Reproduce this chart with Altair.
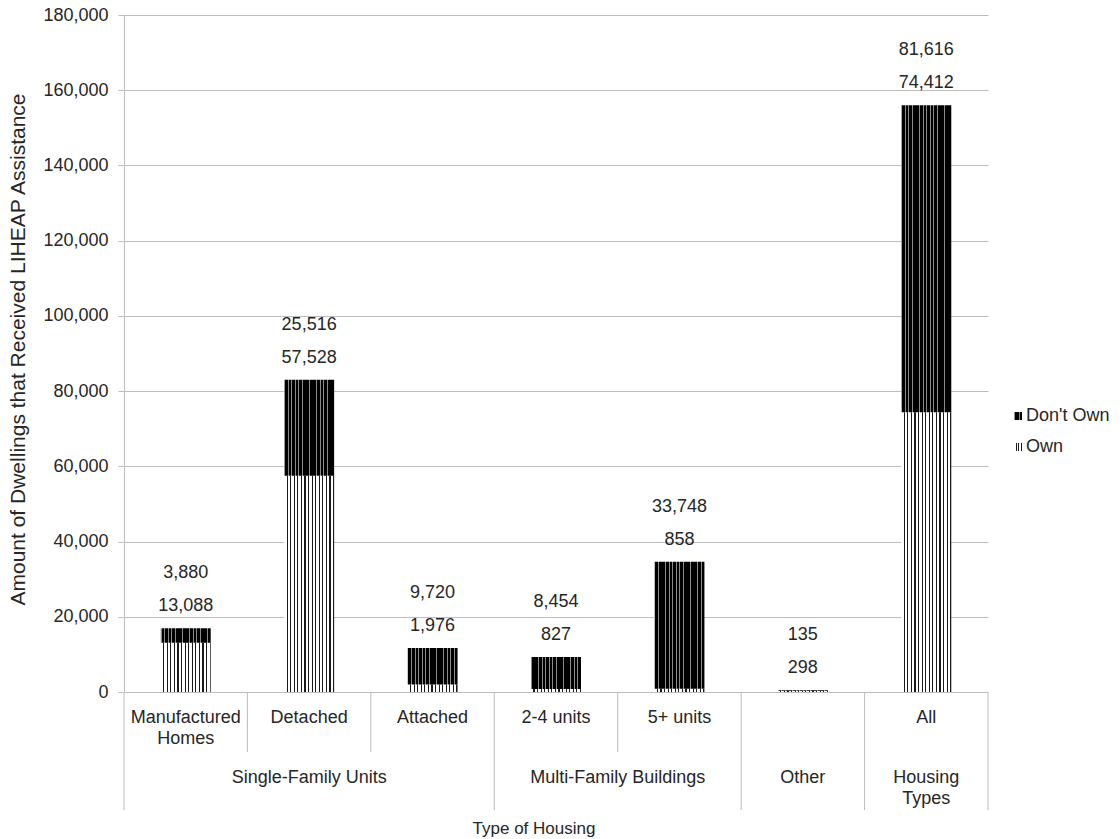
import altair as alt
import pandas as pd

# ---------------- data ----------------
categories = ["Manufactured Homes", "Detached", "Attached", "2-4 units", "5+ units", "Other", "All"]
own = [13088, 57528, 1976, 827, 858, 298, 74412]
dont_own = [3880, 25516, 9720, 8454, 33748, 135, 81616]
cat_labels = ["Manufactured\nHomes", "Detached", "Attached", "2-4 units", "5+ units", "", "All"]
group_labels = ["Single-Family Units", "Multi-Family Buildings", "Other", "Housing\nTypes"]
group_sizes = [3, 2, 1, 1]
legend_names = ["Don't Own", "Own"]
y_ticks = [0, 20000, 40000, 60000, 80000, 100000, 120000, 140000, 160000, 180000]
y_title = "Amount of Dwellings that Received LIHEAP Assistance"
x_title = "Type of Housing"

# ---------------- style ----------------
FONT = "Liberation Sans"
FS = 18
TXT = "#262626"
GRID = "#bdbdbd"
W, H = 864, 677


def stripes(n, frac, ink, paper):
    stops = []
    for k in range(n):
        a = k / n
        b = (k + frac) / n
        c = (k + 1) / n
        stops += [{"offset": a, "color": paper}, {"offset": b, "color": paper},
                  {"offset": b, "color": ink}, {"offset": c, "color": ink}]
    return {"gradient": "linear", "x1": 0, "y1": 0, "x2": 1, "y2": 0, "stops": stops}


OWN_FILL = stripes(14, 0.68, "#1a1a1a", "#ffffff")
DONT_FILL = stripes(14, 0.22, "#000000", "#8a8a8a")
OWN_LEG = stripes(3, 0.6, "#1a1a1a", "#ffffff")
DONT_LEG = stripes(3, 0.25, "#000000", "#8a8a8a")

bars_df = pd.DataFrame({"category": categories, "own": own, "dont": dont_own})

n = len(categories)
cat_df = pd.DataFrame({"pos": [i + 0.5 for i in range(n)], "label": cat_labels})

g_pos, g_start = [], 0
full_seps = [0]
for s in group_sizes:
    g_pos.append(g_start + s / 2)
    g_start += s
    full_seps.append(g_start)
group_df = pd.DataFrame({"pos": g_pos, "label": group_labels})
partial_seps = [i for i in range(n + 1) if i not in full_seps]
full_df = pd.DataFrame({"pos": full_seps})
part_df = pd.DataFrame({"pos": partial_seps})

# ---------------- encodings ----------------
x_band = alt.X("category:N", sort=categories,
               scale=alt.Scale(paddingInner=0.595, paddingOuter=0.2975), axis=None)
y_scale = alt.Scale(domain=[0, 180000], nice=False, zero=True)
y_axis = alt.Axis(values=y_ticks, labelExpr="format(datum.value, ',')",
                  labelFont=FONT, labelFontSize=FS,
                  labelColor=TXT, labelPadding=10, tickSize=6, tickColor=GRID,
                  domainColor=GRID, gridColor=GRID, grid=True, gridWidth=1,
                  titleFont=FONT, titleFontSize=21, titleFontWeight="normal",
                  titleColor=TXT, titleX=-106, titleY=334, titleAngle=270,
                  titleAlign="center", titleBaseline="middle")

base = alt.Chart(bars_df).transform_calculate(total="datum.own + datum.dont")

own_bars = base.mark_bar(fill=OWN_FILL).encode(
    x=x_band, y=alt.Y("own:Q", scale=y_scale, axis=y_axis, title=y_title))
dont_bars = base.mark_bar(fill=DONT_FILL).encode(
    x=x_band, y=alt.Y("total:Q", scale=y_scale, axis=y_axis, title=y_title), y2="own:Q")
own_lbl = base.mark_text(font=FONT, fontSize=FS, color=TXT, baseline="middle", dy=-22).encode(
    x=x_band, y=alt.Y("total:Q", scale=y_scale, axis=y_axis, title=y_title),
    text=alt.Text("own:Q", format=","))
dont_lbl = base.mark_text(font=FONT, fontSize=FS, color=TXT, baseline="middle", dy=-55).encode(
    x=x_band, y=alt.Y("total:Q", scale=y_scale, axis=y_axis, title=y_title),
    text=alt.Text("dont:Q", format=","))

bars = alt.layer(own_bars, dont_bars, own_lbl, dont_lbl)

# ---------------- category axis (two rows) ----------------
x_lin = alt.X("pos:Q", scale=alt.Scale(domain=[0, n], nice=False, zero=False), axis=None)

full_rules = alt.Chart(full_df).mark_rule(color=GRID, strokeWidth=1).encode(
    x=x_lin, y=alt.value(H), y2=alt.value(H + 118))
part_rules = alt.Chart(part_df).mark_rule(color=GRID, strokeWidth=1).encode(
    x=x_lin, y=alt.value(H), y2=alt.value(H + 60))
cat_text = alt.Chart(cat_df).mark_text(
    font=FONT, fontSize=FS, color=TXT, align="center", baseline="alphabetic",
    lineBreak="\n", lineHeight=21).encode(x=x_lin, y=alt.value(708), text="label:N")
group_text = alt.Chart(group_df).mark_text(
    font=FONT, fontSize=FS, color=TXT, align="center", baseline="alphabetic",
    lineBreak="\n", lineHeight=21).encode(x=x_lin, y=alt.value(768), text="label:N")
xtitle = alt.Chart(pd.DataFrame({"t": [x_title]})).mark_text(
    font=FONT, fontSize=17, color=TXT, align="center", baseline="alphabetic").encode(
    x=alt.value(410), y=alt.value(819), text="t:N")

axis_layer = alt.layer(full_rules, part_rules, cat_text, group_text, xtitle)

# ---------------- legend ----------------
leg_layers = []
for i, (name, fill) in enumerate(zip(legend_names, [DONT_LEG, OWN_LEG])):
    d = pd.DataFrame({"name": [name]})
    yy = 401 + i * 31
    leg_layers.append(alt.Chart(d).mark_square(fill=fill, size=64, opacity=1, strokeWidth=0).encode(
        x=alt.value(894), y=alt.value(yy)))
    leg_layers.append(alt.Chart(d).mark_text(font=FONT, fontSize=FS, color=TXT, align="left",
                                             baseline="middle").encode(
        x=alt.value(902), y=alt.value(yy), text="name:N"))

chart = alt.layer(bars, axis_layer, *leg_layers).resolve_scale(x="independent").properties(
    width=W, height=H,
    autosize=alt.AutoSizeParams(type="none"),
    padding={"left": 124, "top": 15, "right": 132, "bottom": 147},
    background="white",
).configure_view(stroke=None)

chart.save("out.html", embed_options={"renderer": "svg", "actions": False})
